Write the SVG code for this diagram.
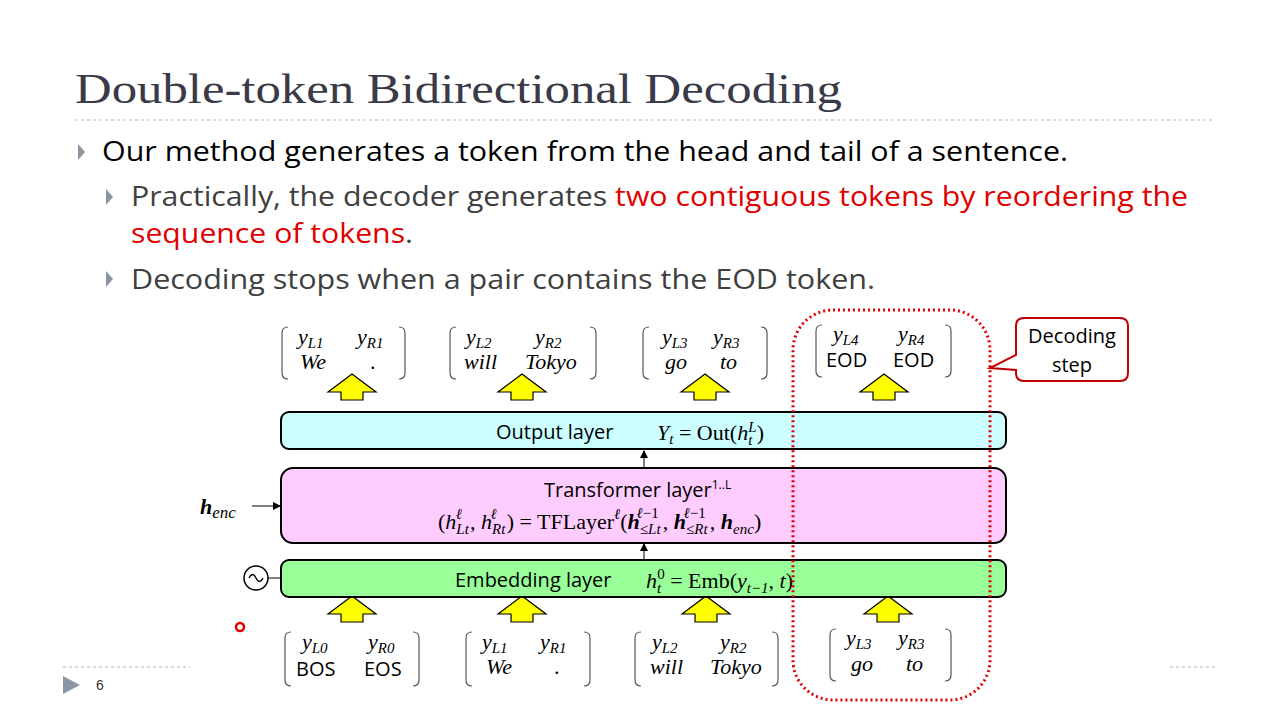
<svg xmlns="http://www.w3.org/2000/svg" width="1280" height="720" viewBox="0 0 1280 720">
<style>
.ti{font-family:"Liberation Serif",serif;font-size:42px;fill:#3a3a48}
.b{font-family:"Open Sans","Liberation Sans",sans-serif;font-size:27px}
.s{font-family:"Open Sans","Liberation Sans",sans-serif;font-size:20px;fill:#000}
.m{font-family:"Liberation Serif",serif;font-size:22px;fill:#000}
.i{font-style:italic}
.sb{font-size:15px}
.bw{font-weight:bold}
.br{fill:none;stroke:#555;stroke-width:1.2}
.ya{fill:#ffff00;stroke:#000;stroke-width:1.2}
.ly{stroke:#000;stroke-width:2}
</style>
<defs>
<marker id="ah" markerWidth="8" markerHeight="8" refX="7" refY="4" orient="auto" markerUnits="userSpaceOnUse"><path d="M0,0 L8,4 L0,8z" fill="#000"/></marker>
<path id="ya" class="ya" d="M-24,10 L0,-8 L24,10 L11,10 L11,18 L-11,18 L-11,10z"/>
</defs>
<rect width="1280" height="720" fill="#fff"/>
<text class="ti" x="75" y="103" textLength="767" lengthAdjust="spacingAndGlyphs">Double-token Bidirectional Decoding</text>
<line x1="75" y1="120" x2="1215" y2="120" stroke="#a9b4c0" stroke-dasharray="3,3"/>
<g fill="#8a96a3"><path d="M78,144 L85,152 L78,160z"/><path d="M106,189 L113,197 L106,205z"/><path d="M106,271 L113,279 L106,287z"/><path d="M63,676 L80,685 L63,694z"/></g>
<text class="b" x="102" y="161" fill="#000" textLength="966" lengthAdjust="spacingAndGlyphs">Our method generates a token from the head and tail of a sentence.</text>
<text class="b" x="131" y="206" fill="#404040" textLength="1057" lengthAdjust="spacingAndGlyphs">Practically, the decoder generates <tspan fill="#e00000">two contiguous tokens by reordering the</tspan></text>
<text class="b" x="131" y="243" fill="#404040" textLength="282" lengthAdjust="spacingAndGlyphs"><tspan fill="#e00000">sequence of tokens</tspan>.</text>
<text class="b" x="131" y="289" fill="#404040" textLength="744" lengthAdjust="spacingAndGlyphs">Decoding stops when a pair contains the EOD token.</text>
<line x1="63" y1="667" x2="190" y2="667" stroke="#a9b4c0" stroke-dasharray="3,3"/>
<line x1="1170" y1="667" x2="1215" y2="667" stroke="#a9b4c0" stroke-dasharray="3,3"/>
<text x="96" y="690" font-family="Liberation Sans,sans-serif" font-size="14" fill="#333">6</text>

<g id="connectors">
<line x1="644" y1="468" x2="644" y2="451" stroke="#000" marker-end="url(#ah)"/>
<line x1="644" y1="560" x2="644" y2="544" stroke="#000" marker-end="url(#ah)"/>
<line x1="252" y1="506" x2="280" y2="506" stroke="#000" marker-end="url(#ah)"/>
<line x1="268" y1="578" x2="281" y2="578" stroke="#000"/>
<use href="#ya" x="352" y="382"/><use href="#ya" x="522" y="382"/><use href="#ya" x="705" y="382"/><use href="#ya" x="884" y="382"/>
<use href="#ya" x="352" y="604"/><use href="#ya" x="522" y="604"/><use href="#ya" x="706" y="604"/><use href="#ya" x="888" y="604"/>
</g>

<g id="output"><rect class="ly" x="281" y="412" width="725" height="37" rx="8" fill="#ccffff"/>
<text class="s" x="496" y="439">Output layer</text>
<text class="m" x="657" y="440" font-size="24"><tspan class="i">Y</tspan><tspan class="i sb" dy="4">t</tspan><tspan dy="-4"> = Out(</tspan><tspan class="i">h</tspan><tspan class="i sb" dy="5">t</tspan><tspan class="i sb" dx="-4" dy="-13">L</tspan><tspan dy="8">)</tspan></text></g>

<g id="transformer"><rect class="ly" x="281" y="468" width="725" height="75" rx="12" fill="#ffccff"/>
<text class="s" x="544" y="497">Transformer layer<tspan font-size="12" dy="-8">1..L</tspan></text>
<text class="m" x="438" y="529" font-size="25">(<tspan class="i">h</tspan><tspan class="i sb" dy="5">Lt</tspan><tspan class="i sb" dx="-13" dy="-15">ℓ</tspan><tspan dx="8" dy="10">, </tspan><tspan class="i">h</tspan><tspan class="i sb" dy="5">Rt</tspan><tspan class="i sb" dx="-15" dy="-15">ℓ</tspan><tspan dx="10" dy="10">) = TFLayer</tspan><tspan class="i sb" dy="-10">ℓ</tspan><tspan dy="10">(</tspan><tspan class="i bw">h</tspan><tspan class="i sb" dy="5">≤Lt</tspan><tspan class="sb" dx="-24" dy="-16"><tspan class="i">ℓ</tspan>−1</tspan><tspan dx="4" dy="11">, </tspan><tspan class="i bw">h</tspan><tspan class="i sb" dy="5">≤Rt</tspan><tspan class="sb" dx="-24" dy="-16"><tspan class="i">ℓ</tspan>−1</tspan><tspan dx="4" dy="11">, </tspan><tspan class="i bw">h</tspan><tspan class="i sb" dy="5">enc</tspan><tspan dy="-5">)</tspan></text></g>

<g id="embedding"><rect class="ly" x="281" y="560" width="725" height="37" rx="8" fill="#99ff99"/>
<text class="s" x="455" y="587">Embedding layer</text>
<text class="m" x="646" y="588" font-size="24"><tspan class="i">h</tspan><tspan class="i sb" dy="5">t</tspan><tspan class="sb" dx="-4" dy="-14">0</tspan><tspan dy="9"> = Emb(</tspan><tspan class="i">y</tspan><tspan class="i sb" dy="5">t−1</tspan><tspan dy="-5">, </tspan><tspan class="i">t</tspan>)</text></g>

<g id="henc"><text class="m" x="200" y="514" font-size="23"><tspan class="i bw">h</tspan><tspan class="i" font-size="17" dy="4">enc</tspan></text></g>
<g id="pos"><circle cx="256" cy="578" r="12" fill="#fff" stroke="#000" stroke-width="1.5"/><path d="M249,578 Q252.5,571 256,578 T263,578" fill="none" stroke="#000" stroke-width="1.3"/></g>

<g id="top-tokens" class="m">
<g id="t1"><path class="br" d="M288,327 Q282,327 282,333 L282,373 Q282,379 288,379 M399,327 Q405,327 405,333 L405,373 Q405,379 399,379"/>
<text x="298" y="344"><tspan class="i">y</tspan><tspan class="i sb" dy="4">L1</tspan></text><text x="357" y="344"><tspan class="i">y</tspan><tspan class="i sb" dy="4">R1</tspan></text>
<text x="300" y="369" class="i">We</text><text x="370" y="369">.</text></g>
<g id="t2"><path class="br" d="M456,327 Q450,327 450,333 L450,373 Q450,379 456,379 M590,327 Q596,327 596,333 L596,373 Q596,379 590,379"/>
<text x="466" y="344"><tspan class="i">y</tspan><tspan class="i sb" dy="4">L2</tspan></text><text x="535" y="344"><tspan class="i">y</tspan><tspan class="i sb" dy="4">R2</tspan></text>
<text x="464" y="369" class="i">will</text><text x="525" y="369" class="i">Tokyo</text></g>
<g id="t3"><path class="br" d="M649,327 Q643,327 643,333 L643,373 Q643,379 649,379 M761,327 Q767,327 767,333 L767,373 Q767,379 761,379"/>
<text x="662" y="344"><tspan class="i">y</tspan><tspan class="i sb" dy="4">L3</tspan></text><text x="713" y="344"><tspan class="i">y</tspan><tspan class="i sb" dy="4">R3</tspan></text>
<text x="665" y="369" class="i">go</text><text x="720" y="369" class="i">to</text></g>
<g id="t4"><path class="br" d="M822,325 Q816,325 816,331 L816,371 Q816,377 822,377 M945,325 Q951,325 951,331 L951,371 Q951,377 945,377"/>
<text x="833" y="341"><tspan class="i">y</tspan><tspan class="i sb" dy="4">L4</tspan></text><text x="898" y="341"><tspan class="i">y</tspan><tspan class="i sb" dy="4">R4</tspan></text>
<text x="826" y="367" class="s" font-size="21">EOD</text><text x="893" y="367" class="s" font-size="21">EOD</text></g>
</g>

<g id="bottom-tokens" class="m">
<g id="b0"><path class="br" d="M291,632 Q285,632 285,638 L285,680 Q285,686 291,686 M413,632 Q419,632 419,638 L419,680 Q419,686 413,686"/>
<text x="302" y="649"><tspan class="i">y</tspan><tspan class="i sb" dy="4">L0</tspan></text><text x="368" y="649"><tspan class="i">y</tspan><tspan class="i sb" dy="4">R0</tspan></text>
<text x="296" y="676" class="s" font-size="21">BOS</text><text x="364" y="676" class="s" font-size="21">EOS</text></g>
<g id="b1"><path class="br" d="M472,632 Q466,632 466,638 L466,680 Q466,686 472,686 M584,632 Q590,632 590,638 L590,680 Q590,686 584,686"/>
<text x="482" y="649"><tspan class="i">y</tspan><tspan class="i sb" dy="4">L1</tspan></text><text x="540" y="649"><tspan class="i">y</tspan><tspan class="i sb" dy="4">R1</tspan></text>
<text x="486" y="674" class="i">We</text><text x="554" y="674">.</text></g>
<g id="b2"><path class="br" d="M641,632 Q635,632 635,638 L635,680 Q635,686 641,686 M772,632 Q778,632 778,638 L778,680 Q778,686 772,686"/>
<text x="652" y="649"><tspan class="i">y</tspan><tspan class="i sb" dy="4">L2</tspan></text><text x="720" y="649"><tspan class="i">y</tspan><tspan class="i sb" dy="4">R2</tspan></text>
<text x="650" y="674" class="i">will</text><text x="710" y="674" class="i">Tokyo</text></g>
<g id="b3"><path class="br" d="M836,629 Q830,629 830,635 L830,675 Q830,681 836,681 M945,629 Q951,629 951,635 L951,675 Q951,681 945,681"/>
<text x="846" y="645"><tspan class="i">y</tspan><tspan class="i sb" dy="4">L3</tspan></text><text x="898" y="645"><tspan class="i">y</tspan><tspan class="i sb" dy="4">R3</tspan></text>
<text x="851" y="671" class="i">go</text><text x="906" y="671" class="i">to</text></g>
</g>

<g id="step"><rect x="793" y="310" width="197" height="390" rx="40" fill="none" stroke="#e00000" stroke-width="3" stroke-dasharray="2,3"/></g>
<g id="callout"><path d="M1024,318 H1120 Q1128,318 1128,326 V373 Q1128,381 1120,381 H1024 Q1016,381 1016,373 V370 L990,368 L1016,355 V326 Q1016,318 1024,318z" fill="#fff" stroke="#c00000" stroke-width="2"/>
<text class="s" x="1072" y="343" text-anchor="middle">Decoding</text><text class="s" x="1072" y="372" text-anchor="middle">step</text></g>
<circle cx="240" cy="627" r="4" fill="none" stroke="#e00000" stroke-width="2.5"/>
</svg>
